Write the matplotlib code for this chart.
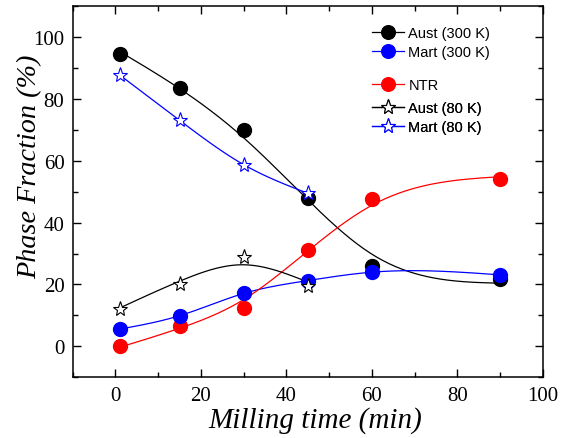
import numpy as np
import matplotlib
matplotlib.use("Agg")
import matplotlib.pyplot as plt
from matplotlib.lines import Line2D
from matplotlib.ticker import MultipleLocator

# milling time (min)
t_300 = [1, 15, 30, 45, 60, 90]
t_80 = [1, 15, 30, 45]

aust_300 = [94.5, 83.5, 69.8, 47.9, 26.1, 21.8]
mart_300 = [5.6, 9.8, 17.2, 21.2, 24.0, 23.1]
ntr = [0.0, 6.7, 12.4, 31.1, 47.6, 54.1]
aust_80 = [12.2, 20.0, 29.0, 19.4]
mart_80 = [87.7, 73.1, 58.7, 49.5]


def smooth_curve(x, y, lam, h=0.5):
    # penalised least squares (smoothing spline on a fine grid)
    xs = np.arange(min(x), max(x) + h / 2, h)
    n = len(xs)
    W = np.zeros(n)
    z = np.zeros(n)
    for xi, yi in zip(x, y):
        i = int(round((xi - xs[0]) / h))
        W[i] = 1.0
        z[i] = yi
    D = np.diff(np.eye(n), 2, axis=0) / h ** 2
    A = np.diag(W) + lam * h * D.T @ D
    return xs, np.linalg.solve(A, W * z)


plt.rcParams['font.family'] = 'Liberation Serif'

fig = plt.figure(figsize=(5.62, 4.39), dpi=100)
ax = fig.add_axes([0.1294, 0.1383, 0.8363, 0.8457])

lw = 0.9
ms_c = 10
ms_s = 11

# curves
ax.plot(*smooth_curve(t_300, aust_300, 750), color='black', lw=lw)
ax.plot(*smooth_curve(t_300, mart_300, 20), color='blue', lw=lw)
ax.plot(*smooth_curve(t_300, ntr, 500), color='red', lw=lw)
ax.plot(*smooth_curve(t_80, aust_80, 300), color='black', lw=lw)
ax.plot(*smooth_curve(t_80, mart_80, 10), color='blue', lw=lw)

# points
ax.plot(t_300, aust_300, 'o', color='black', ms=ms_c)
ax.plot(t_300, ntr, 'o', color='red', ms=ms_c)
ax.plot(t_300, mart_300, 'o', color='blue', ms=ms_c)
ax.plot(t_80, aust_80, '*', mfc='white', mec='black', mew=0.8, ms=ms_s)
ax.plot(t_80, mart_80, '*', mfc='white', mec='blue', mew=0.8, ms=ms_s)

ax.set_xlim(-10, 100)
ax.set_ylim(-10, 110)
ax.xaxis.set_major_locator(MultipleLocator(20))
ax.xaxis.set_minor_locator(MultipleLocator(10))
ax.yaxis.set_major_locator(MultipleLocator(20))
ax.yaxis.set_minor_locator(MultipleLocator(10))
ax.tick_params(which='both', direction='in', top=True, right=True, width=1)
ax.tick_params(which='major', length=6, labelsize=15, pad=6)
ax.tick_params(which='minor', length=3.5)
for s in ax.spines.values():
    s.set_linewidth(1.1)

ax.set_xlabel('Milling time (min)', fontsize=21, style='italic')
ax.set_ylabel('Phase Fraction (%)', fontsize=20.3, style='italic')
ax.xaxis.set_label_coords(0.5155, -0.078)
ax.yaxis.set_label_coords(-0.065, 0.569)


def handle(color, marker, face, ms):
    return Line2D([], [], color=color, lw=lw, marker=marker, mfc=face, mec=color,
                  ms=ms, mew=0.8)


groups = [
    ([handle('black', 'o', 'black', ms_c), handle('blue', 'o', 'blue', ms_c)],
     ['Aust (300 K)', 'Mart (300 K)'], 0.974),
    ([handle('red', 'o', 'red', ms_c)], ['NTR'], 0.833),
    ([handle('black', '*', 'white', ms_s), handle('blue', '*', 'white', ms_s)],
     ['Aust (80 K)', 'Mart (80 K)'], 0.772),
]
for hs, labels, ytop in groups:
    leg = ax.legend(hs, labels, loc='upper left', bbox_to_anchor=(0.615, ytop),
                    frameon=False, handlelength=2.2, handletextpad=0.3,
                    labelspacing=0.35, borderpad=0.2,
                    prop={'family': 'Liberation Sans', 'size': 10.5})
    ax.add_artist(leg)

fig.savefig('out.png', dpi=100)
